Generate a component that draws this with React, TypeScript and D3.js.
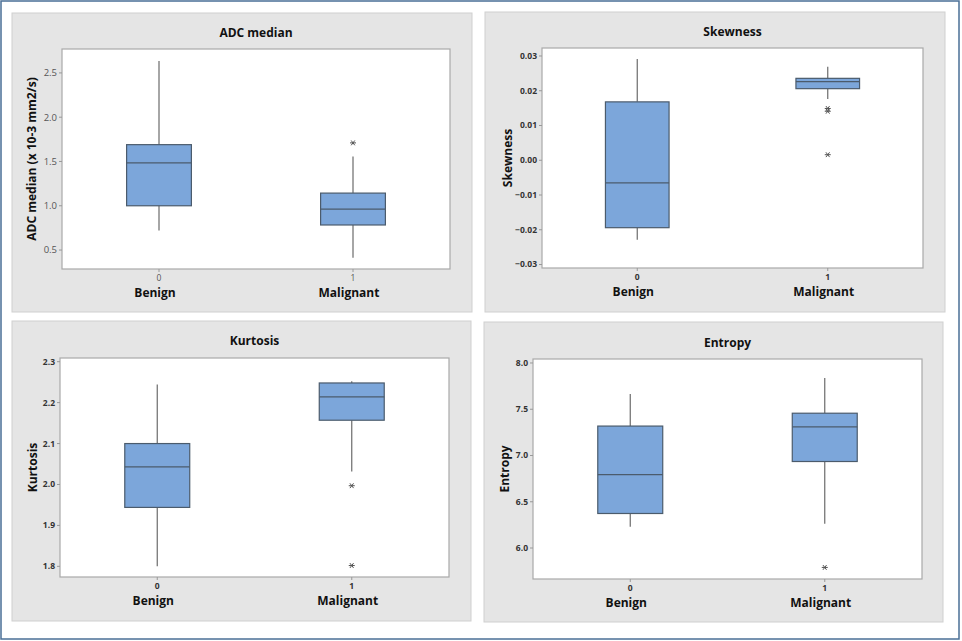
import React from "react";
import * as d3 from "d3";

// ---------- Data ----------
const categories = ["0", "1"];
const groupLabels = ["Benign", "Malignant"];

// [whiskerLow, Q1, median, Q3, whiskerHigh]
const adcBenign = [0.72, 1.0, 1.485, 1.69, 2.635];
const adcMalignant = [0.413, 0.783, 0.963, 1.143, 1.556];
const adcOutliersBenign: number[] = [];
const adcOutliersMalignant = [1.71];
const adcTicks = [0.5, 1.0, 1.5, 2.0, 2.5];

const skewBenign = [-0.0229, -0.0194, -0.00653, 0.0168, 0.0291];
const skewMalignant = [0.0176, 0.0206, 0.0226, 0.02357, 0.0269];
const skewOutliersBenign: number[] = [];
const skewOutliersMalignant = [0.0149, 0.0141, 0.0016];
const skewTicks = [-0.03, -0.02, -0.01, 0.0, 0.01, 0.02, 0.03];

const kurtBenign = [1.8, 1.944, 2.043, 2.1, 2.244];
const kurtMalignant = [2.032, 2.157, 2.214, 2.248, 2.252];
const kurtOutliersBenign: number[] = [];
const kurtOutliersMalignant = [1.997, 1.802];
const kurtTicks = [1.8, 1.9, 2.0, 2.1, 2.2, 2.3];

const entBenign = [6.229, 6.373, 6.794, 7.318, 7.666];
const entMalignant = [6.262, 6.935, 7.31, 7.457, 7.838];
const entOutliersBenign: number[] = [];
const entOutliersMalignant = [5.79];
const entTicks = [6.0, 6.5, 7.0, 7.5, 8.0];

// ---------- Layout ----------
type Panel = {
  title: string;
  yLabel: string;
  stats: number[][];
  outliers: number[][];
  ticks: number[];
  tickFmt: (v: number) => string;
  domain: [number, number];
  bg: [number, number, number, number];
  plot: [number, number, number, number];
  titleY: number;
  yLabelX: number;
  tickWeight: number;
  tickColor: string;
  tickFont: number;
};

const f1 = d3.format(".1f");
const f2 = d3.format(".2f");

const panels: Panel[] = [
  {
    title: "ADC median",
    yLabel: "ADC median (x 10-3 mm2/s)",
    stats: [adcBenign, adcMalignant],
    outliers: [adcOutliersBenign, adcOutliersMalignant],
    ticks: adcTicks,
    tickFmt: f1,
    domain: [0.286, 2.77],
    bg: [12, 13, 472, 312],
    plot: [62, 49, 450, 269],
    titleY: 37,
    yLabelX: 32,
    tickWeight: 400,
    tickColor: "#555",
    tickFont: 9.5,
  },
  {
    title: "Skewness",
    yLabel: "Skewness",
    stats: [skewBenign, skewMalignant],
    outliers: [skewOutliersBenign, skewOutliersMalignant],
    ticks: skewTicks,
    tickFmt: (v) => (Math.abs(v) < 1e-9 ? "0.00" : f2(v)),
    domain: [-0.031, 0.0323],
    bg: [485, 12, 945, 312],
    plot: [542, 48, 923, 268],
    titleY: 36,
    yLabelX: 508,
    tickWeight: 700,
    tickColor: "#333",
    tickFont: 8.5,
  },
  {
    title: "Kurtosis",
    yLabel: "Kurtosis",
    stats: [kurtBenign, kurtMalignant],
    outliers: [kurtOutliersBenign, kurtOutliersMalignant],
    ticks: kurtTicks,
    tickFmt: f1,
    domain: [1.774, 2.309],
    bg: [12, 321, 471, 621],
    plot: [60, 358, 449, 577],
    titleY: 345,
    yLabelX: 33,
    tickWeight: 700,
    tickColor: "#333",
    tickFont: 8.5,
  },
  {
    title: "Entropy",
    yLabel: "Entropy",
    stats: [entBenign, entMalignant],
    outliers: [entOutliersBenign, entOutliersMalignant],
    ticks: entTicks,
    tickFmt: f1,
    domain: [5.665, 8.043],
    bg: [484, 322, 943, 622],
    plot: [533, 359, 922, 579],
    titleY: 347,
    yLabelX: 505,
    tickWeight: 700,
    tickColor: "#333",
    tickFont: 8.5,
  },
];

const FONT = "'Open Sans', 'Noto Sans', sans-serif";
const BOX_FILL = "#7ca6da";
const BOX_STROKE = "#4b5b6c";
const WHISKER = "#6b6b6b";

function Star({ x, y }: { x: number; y: number }) {
  const r = 3;
  return (
    <g stroke="#555" strokeWidth={1}>
      <line x1={x - r} y1={y} x2={x + r} y2={y} />
      <line x1={x - r * 0.6} y1={y - r * 0.8} x2={x + r * 0.6} y2={y + r * 0.8} />
      <line x1={x - r * 0.6} y1={y + r * 0.8} x2={x + r * 0.6} y2={y - r * 0.8} />
    </g>
  );
}

function PanelView({ p }: { p: Panel }) {
  const [px0, py0, px1, py1] = p.plot;
  const y = d3.scaleLinear().domain(p.domain).range([py1, py0]);
  const x = d3.scalePoint<string>().domain(categories).range([px0, px1]).padding(0.5);
  const boxW = (px1 - px0) * 0.167;
  const [bx0, by0, bx1, by1] = p.bg;
  const cx = (px0 + px1) / 2;
  const cy = (py0 + py1) / 2;
  return (
    <g>
      <rect x={bx0} y={by0} width={bx1 - bx0} height={by1 - by0} fill="#e5e5e5" stroke="#cfcfcf" strokeWidth={1} />
      <rect x={px0} y={py0} width={px1 - px0} height={py1 - py0} fill="#fff" stroke="#a9a9a9" strokeWidth={1.2} />
      <text x={cx} y={p.titleY} textAnchor="middle" fontFamily={FONT} fontWeight={700} fontSize={12} fill="#111">
        {p.title}
      </text>
      {p.ticks.map((t) => (
        <g key={t}>
          <line x1={px0 - 3} x2={px0} y1={y(t)} y2={y(t)} stroke="#999" />
          <text
            x={px0 - 5}
            y={y(t)}
            dy="0.35em"
            textAnchor="end"
            fontFamily={FONT}
            fontSize={p.tickFont}
            fontWeight={p.tickWeight}
            fill={p.tickColor}
          >
            {p.tickFmt(t)}
          </text>
        </g>
      ))}
      <text
        transform={`translate(${p.yLabelX},${cy}) rotate(-90)`}
        textAnchor="middle"
        dy="0.35em"
        fontFamily={FONT}
        fontWeight={700}
        fontSize={12}
        fill="#111"
      >
        {p.yLabel}
      </text>
      {categories.map((c, i) => {
        const xc = x(c) as number;
        const s = p.stats[i];
        return (
          <g key={c}>
            <line x1={xc} x2={xc} y1={py1} y2={py1 + 3} stroke="#999" />
            <text x={xc} y={py1 + 12} textAnchor="middle" fontFamily={FONT} fontSize={8.5} fontWeight={p.tickWeight} fill={p.tickColor}>
              {c}
            </text>
            <text x={xc - 4} y={py1 + 28} textAnchor="middle" fontFamily={FONT} fontSize={12} fontWeight={700} fill="#111">
              {groupLabels[i]}
            </text>
            <line x1={xc} x2={xc} y1={y(s[4])} y2={y(s[3])} stroke={WHISKER} strokeWidth={1.2} />
            <line x1={xc} x2={xc} y1={y(s[1])} y2={y(s[0])} stroke={WHISKER} strokeWidth={1.2} />
            <rect
              x={xc - boxW / 2}
              y={y(s[3])}
              width={boxW}
              height={y(s[1]) - y(s[3])}
              fill={BOX_FILL}
              stroke={BOX_STROKE}
              strokeWidth={1.2}
            />
            <line x1={xc - boxW / 2} x2={xc + boxW / 2} y1={y(s[2])} y2={y(s[2])} stroke={BOX_STROKE} strokeWidth={1.2} />
            {p.outliers[i].map((o, k) => (
              <Star key={k} x={xc} y={y(o)} />
            ))}
          </g>
        );
      })}
    </g>
  );
}

export default function App() {
  return (
    <svg
      width={962}
      height={641}
      style={{ position: "absolute", left: 0, top: 0, background: "#fff" }}
    >
      <rect x={1} y={1} width={958} height={638} fill="#fff" stroke="#4a6f96" strokeWidth={1.5} />
      {panels.map((p) => (
        <PanelView key={p.title} p={p} />
      ))}
    </svg>
  );
}
